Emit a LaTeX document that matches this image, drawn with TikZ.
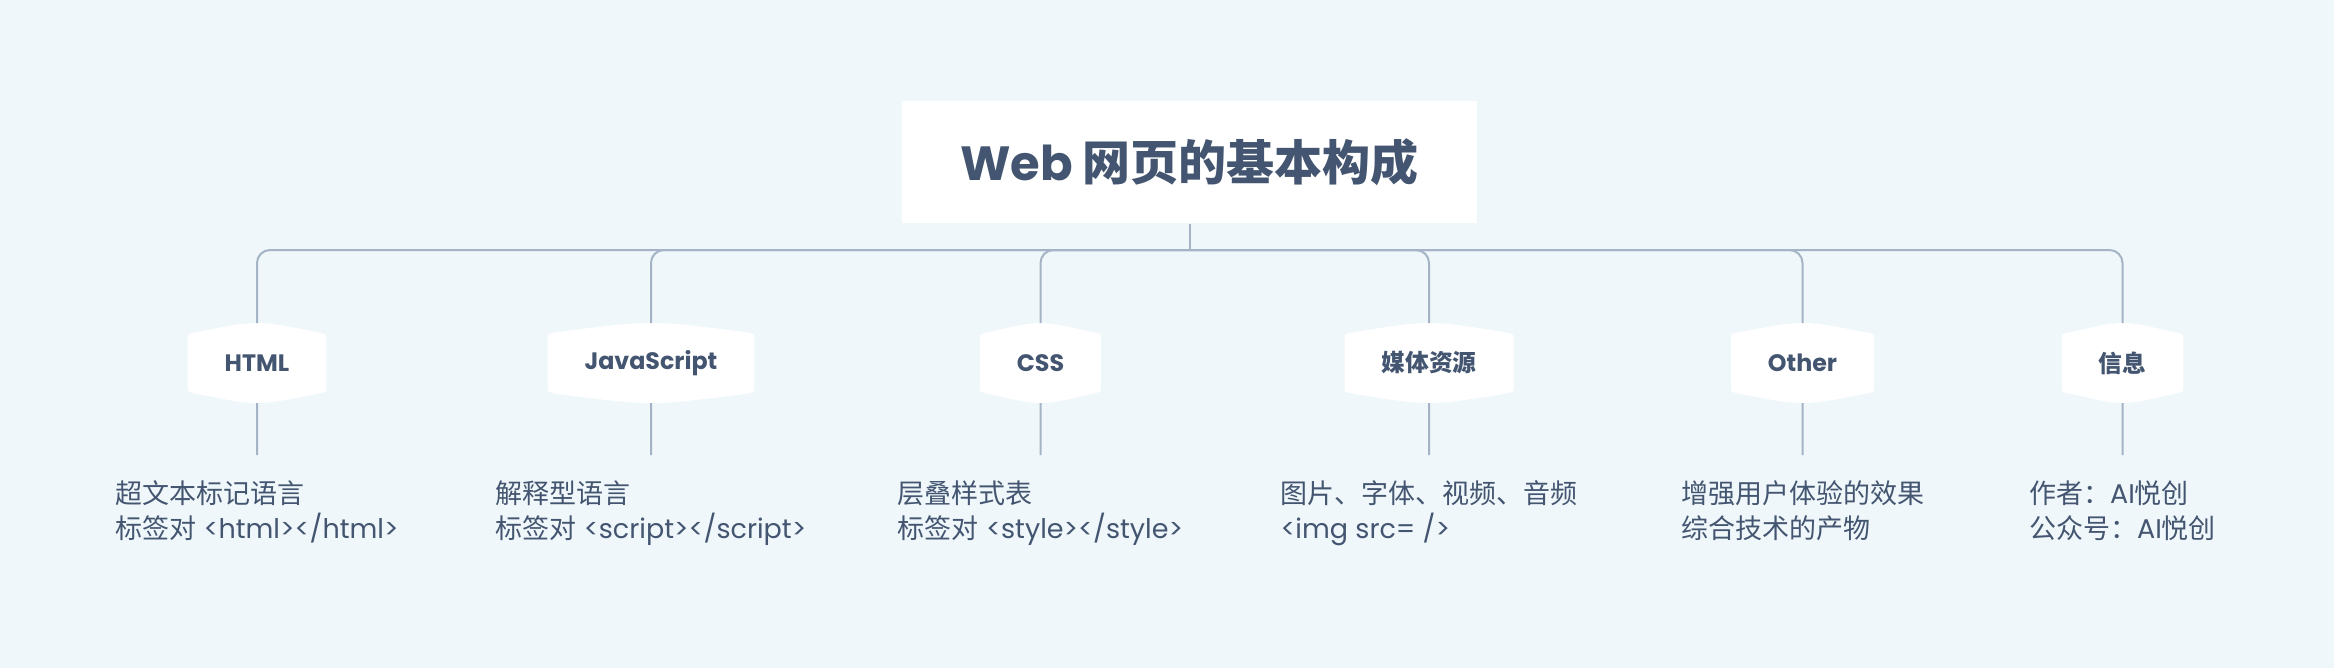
\documentclass[tikz,border=0pt]{standalone}
\usepackage{fontspec}
\setmainfont{Poppins}
\newfontfamily\cjk{Noto Sans CJK SC}
\usetikzlibrary{positioning}
\definecolor{paleblue}{RGB}{239,247,250}
\definecolor{inkblue}{RGB}{67,85,112}
\definecolor{linegray}{RGB}{164,180,198}
\newcommand{\zh}[1]{{\cjk #1}}

\begin{document}
\begin{tikzpicture}[
		x=0.4pt, y=-0.4pt,
		topic/.style={rectangle, fill=white, minimum width=230pt, minimum height=48.8pt,
			font=\bfseries\fontsize{19.2}{23}\selectfont, text=inkblue},
		branch/.style={rectangle, minimum height=32pt, inner xsep=14.8pt, outer sep=0pt,
			font=\bfseries\fontsize{9.5}{11}\selectfont, text=inkblue,
			path picture={
				\fill[white] ([yshift=-6pt]path picture bounding box.north west)
				.. controls ([yshift=-4.4pt]path picture bounding box.north west) .. ([xshift=4pt,yshift=-3.6pt]path picture bounding box.north west)
				.. controls ([yshift=1.2pt]path picture bounding box.north) .. ([xshift=-4pt,yshift=-3.6pt]path picture bounding box.north east)
				.. controls ([yshift=-4.4pt]path picture bounding box.north east) .. ([yshift=-6pt]path picture bounding box.north east)
				-- ([yshift=6pt]path picture bounding box.south east)
				.. controls ([yshift=4.4pt]path picture bounding box.south east) .. ([xshift=-4pt,yshift=3.6pt]path picture bounding box.south east)
				.. controls ([yshift=-1.2pt]path picture bounding box.south) .. ([xshift=4pt,yshift=3.6pt]path picture bounding box.south west)
				.. controls ([yshift=4.4pt]path picture bounding box.south west) .. ([yshift=6pt]path picture bounding box.south west)
				-- cycle;
			}},
		note/.style={align=left, inner xsep=0pt, inner ysep=10.4pt, outer sep=0pt,
			font=\fontsize{10.8}{14}\selectfont, text=inkblue},
		link/.style={draw=linegray, line width=0.8pt, rounded corners=5.2pt}
	]
	
	\fill[paleblue] (0,0) rectangle (2334,668);
	\useasboundingbox (0,0) rectangle (2334,668);
	
	% Nodes
	\node[topic] (title) at (1189.5,162) {Web \zh{网页的基本构成}};
	\coordinate (hub) at (1189.5,250);
	
	\node[branch] (html) at (257,363) {HTML};
	\node[branch] (js) at (651,363) {JavaScript};
	\node[branch] (css) at (1040.5,363) {CSS};
	\node[branch] (media) at (1429,363) {\zh{媒体资源}};
	\node[branch] (other) at (1802.5,363) {Other};
	\node[branch] (info) at (2122.5,363) {\zh{信息}};
	
	\node[note, below=20.8pt of html] (html-note) {\zh{超文本标记语言}\\\zh{标签对} <html></html>};
	\node[note, below=20.8pt of js] (js-note) {\zh{解释型语言}\\\zh{标签对} <script></script>};
	\node[note, below=20.8pt of css] (css-note) {\zh{层叠样式表}\\\zh{标签对} <style></style>};
	\node[note, below=20.8pt of media] (media-note) {\zh{图片、字体、视频、音频}\\<img src= />};
	\node[note, below=20.8pt of other] (other-note) {\zh{增强用户体验的效果}\\\zh{综合技术的产物}};
	\node[note, below=20.8pt of info] (info-note) {\zh{作者：}AI\zh{悦创}\\\zh{公众号：}AI\zh{悦创}};
	
	% Links
	\draw[link] (title) -- (hub);
	\foreach \n in {html,js,css,media,other,info}
		\draw[link] (hub) -| (\n) (\n) -- (\n-note);
	
\end{tikzpicture}
\end{document}
